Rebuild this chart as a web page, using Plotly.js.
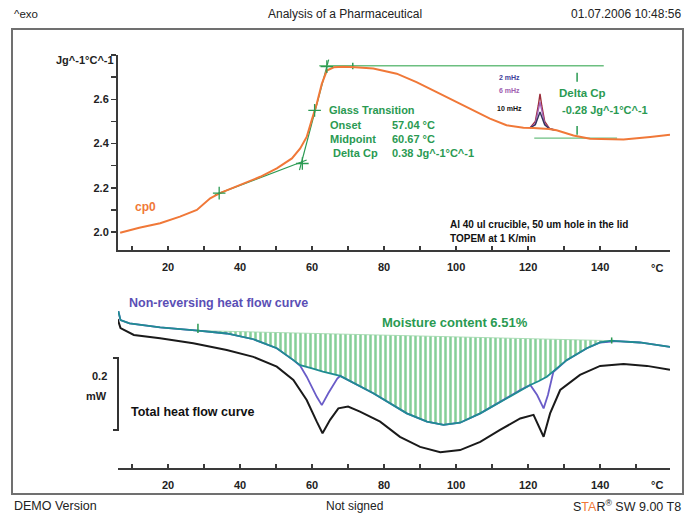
<!DOCTYPE html>
<html>
<head>
<meta charset="utf-8">
<script src="https://cdn.plot.ly/plotly-3.0.1.min.js"></script>
<style>html,body{margin:0;padding:0;background:#fff;}#chart{width:691px;height:516px;}</style>
</head>
<body>
<div id="chart"></div>
<script>
// ---------- Top panel: specific heat cp0 (Jg^-1°C^-1) ----------
const tempCp0 = [6.7, 12, 17.8, 23.3, 28, 31.7, 34.4, 40.9, 45.6, 50.2, 54.4, 56.7, 58.5, 59.9, 61.3, 62.7, 64.1, 66, 68.6, 72, 77, 83.5, 89, 94.6, 100.2, 104.8, 109.4, 114, 118.7, 121.5, 125.8, 127.9, 132.6, 137.2, 142, 146.5, 153.9, 159.4];
const cp0 = [1.997, 2.02, 2.04, 2.07, 2.10, 2.153, 2.176, 2.221, 2.25, 2.288, 2.333, 2.378, 2.43, 2.506, 2.58, 2.67, 2.73, 2.745, 2.747, 2.745, 2.739, 2.716, 2.678, 2.633, 2.588, 2.55, 2.513, 2.483, 2.472, 2.47, 2.466, 2.46, 2.437, 2.422, 2.419, 2.419, 2.43, 2.44];

// Frequency-dependent peaks near 124 °C
const tempPeak = [120.5, 122, 122.8, 123.3, 123.8, 124.6, 126, 127.5];
const cp2mHz  = [2.471, 2.50, 2.57, 2.625, 2.57, 2.50, 2.466, 2.462];
const cp6mHz  = [2.471, 2.49, 2.55, 2.588, 2.55, 2.49, 2.466, 2.462];
const cp10mHz = [2.471, 2.485, 2.52, 2.543, 2.52, 2.485, 2.466, 2.462];

// Glass transition evaluation construction lines
const tgBaseT = [33, 58.5], tgBaseCp = [2.168, 2.326];
const tgSteepT = [56.5, 64.6], tgSteepCp = [2.28, 2.78];
const tgMarkT = [34.2, 57.3, 60.7, 64.1], tgMarkCp = [2.176, 2.31, 2.55, 2.748];
const upperLevelT = [62, 141], upperLevelCp = [2.752, 2.752];
const lowerLevelT = [121.7, 144.7], lowerLevelCp = [2.425, 2.425];
const dcpMarkT = [133.6, 133.6, null, 133.6, 133.6], dcpMarkCp = [2.68, 2.72, null, 2.44, 2.48];
const plateauMarkT = [71.3, 71.3], plateauMarkCp = [2.736, 2.766];

// ---------- Bottom panel: heat flow (mW, relative) ----------
const tempNR = [6.2, 6.8, 9.3, 17.8, 28.3, 36.3, 43.7, 50.2, 54.8, 56.7, 58.5, 61.3, 62.7, 64.5, 67, 67.8, 77, 86.3, 91.9, 96.5, 101.1, 106.7, 112.2, 117.8, 120.6, 122.5, 124.3, 125.5, 127, 130.7, 136.3, 140, 144.6, 151, 159.4];
const nonRev = [-0.031, -0.056, -0.065, -0.076, -0.085, -0.093, -0.109, -0.134, -0.167, -0.183, -0.213, -0.269, -0.292, -0.259, -0.218, -0.211, -0.259, -0.315, -0.338, -0.347, -0.341, -0.315, -0.283, -0.250, -0.236, -0.264, -0.301, -0.264, -0.200, -0.167, -0.134, -0.118, -0.114, -0.118, -0.130];

const tempSm = [6.2, 6.8, 9.3, 17.8, 28.3, 36.3, 43.7, 50.2, 54.8, 56.7, 60, 63, 67.8, 77, 86.3, 91.9, 96.5, 101.1, 106.7, 112.2, 117.8, 120.6, 123, 125.2, 130.7, 136.3, 140, 143.2, 144.6, 151, 159.4];
const nonRevSmooth = [-0.031, -0.056, -0.065, -0.076, -0.085, -0.093, -0.109, -0.134, -0.167, -0.181, -0.190, -0.199, -0.211, -0.259, -0.315, -0.338, -0.347, -0.341, -0.315, -0.283, -0.250, -0.236, -0.225, -0.213, -0.167, -0.134, -0.118, -0.113, -0.114, -0.118, -0.130];

const tempTot = [6.0, 6.8, 10.5, 17.8, 27, 36.3, 43.7, 50.2, 54.8, 58.5, 61.3, 62.9, 65, 67.3, 70, 73.3, 78.9, 84.4, 90, 95.6, 101.1, 106.7, 112.2, 117.8, 121.5, 124.3, 126.1, 128.9, 134.4, 140, 146.5, 153, 159.4];
const totalHF = [-0.053, -0.078, -0.097, -0.106, -0.120, -0.139, -0.158, -0.185, -0.222, -0.278, -0.338, -0.370, -0.333, -0.301, -0.296, -0.310, -0.338, -0.380, -0.408, -0.423, -0.417, -0.394, -0.361, -0.329, -0.319, -0.380, -0.315, -0.250, -0.208, -0.183, -0.178, -0.183, -0.194];

const intLimitsT = [28.3, 143.2], intBaseline = [-0.085, -0.113];
const limMarkT = [28.3, 28.3, null, 143.2, 143.2], limMarkHF = [-0.066, -0.092, null, -0.104, -0.121];

const xTicks = [20, 40, 60, 80, 100, 120, 140];
const yTicks = [2.0, 2.2, 2.4, 2.6];

// ---------- Build ----------
const W = 691, H = 516;
const F = 'Liberation Sans, Arial, sans-serif';
const GREEN = '#2a9a52', ORANGE = '#f07838';
const px = v => v / W, py = v => 1 - v / H;

const traces = [];
function line(x, y, color, width, xa, ya, extra) {
  traces.push(Object.assign({x, y, type: 'scatter', mode: 'lines', line: {color, width},
    xaxis: xa, yaxis: ya, hoverinfo: 'skip', showlegend: false}, extra || {}));
}
// top panel
line(tgBaseT, tgBaseCp, GREEN, 1.2, 'x', 'y');
line(tgSteepT, tgSteepCp, GREEN, 1.2, 'x', 'y');
line(upperLevelT, upperLevelCp, '#6cbf80', 1.3, 'x', 'y');
line(lowerLevelT, lowerLevelCp, '#6cbf80', 1.3, 'x', 'y');
line(dcpMarkT, dcpMarkCp, GREEN, 1.5, 'x', 'y');
line(plateauMarkT, plateauMarkCp, GREEN, 1.5, 'x', 'y');
line(tempPeak, cp2mHz, '#9b2d3a', 1.4, 'x', 'y');
line(tempPeak, cp6mHz, '#a463b8', 1.4, 'x', 'y');
line(tempPeak, cp10mHz, '#33335a', 1.4, 'x', 'y');
line(tempCp0, cp0, ORANGE, 2, 'x', 'y');
traces.push({x: tgMarkT, y: tgMarkCp, type: 'scatter', mode: 'markers', xaxis: 'x', yaxis: 'y',
  marker: {symbol: 'cross-thin-open', size: 9, color: GREEN, line: {color: GREEN, width: 1.3}},
  hoverinfo: 'skip', showlegend: false});

// bottom panel
line(intLimitsT, intBaseline, '#9ad6a8', 0.8, 'x2', 'y2');
const fillT = [], fillV = [];
tempSm.forEach((t, i) => { if (t >= intLimitsT[0] && t <= intLimitsT[1]) { fillT.push(t); fillV.push(nonRevSmooth[i]); } });
line(fillT, fillV, 'rgba(0,0,0,0)', 0, 'x2', 'y2', {fill: 'tonexty', fillcolor: '#ffffff',
  fillpattern: {shape: '|', size: 5, solidity: 0.5, fgcolor: '#86cf98', bgcolor: '#ffffff'}});
line(tempTot, totalHF, '#1a1a1a', 2, 'x2', 'y2');
line(tempNR, nonRev, '#6a5cc8', 1.8, 'x2', 'y2');
line(tempSm, nonRevSmooth, '#1f8c92', 1.8, 'x2', 'y2');
line(limMarkT, limMarkHF, GREEN, 1.5, 'x2', 'y2');

const xDom = [px(118), px(670)];
const xRange = [6.1, 159.4];
const tickFont = {family: F, size: 11, color: '#222', weight: 'bold'};
const xAxisBase = {domain: xDom, range: xRange, showline: true, linecolor: '#3a3a3a', linewidth: 2,
  ticks: 'inside', ticklen: 4, tickwidth: 1.5, tickcolor: '#3a3a3a', tickvals: xTicks,
  minor: {tickmode: 'linear', tick0: 0, dtick: 10, ticks: 'inside', ticklen: 4, tickwidth: 1.5, tickcolor: '#3a3a3a', showgrid: false},
  tickfont: tickFont, showgrid: false, zeroline: false, ticklabelstandoff: 6, fixedrange: true};

function A(text, x, y, size, color, opts) {
  return Object.assign({text, x: px(x), y: py(y), xref: 'paper', yref: 'paper', showarrow: false,
    xanchor: 'left', yanchor: 'middle', font: {family: F, size, color, weight: (opts && opts.w) || 'normal'}},
    opts && opts.a ? opts.a : {});
}
const annotations = [
  A('^exo', 12, 14, 11.5, '#222'),
  A('Analysis of a Pharmaceutical', 345, 14, 12, '#222', {a: {xanchor: 'center'}}),
  A('01.07.2006 10:48:56', 683, 14, 12, '#222', {a: {xanchor: 'right'}}),
  A('DEMO Version', 12, 506, 12.5, '#222'),
  A('Not signed', 354, 506, 12, '#222', {a: {xanchor: 'center'}}),
  A('S<span style="color:#f07838">TA</span>R<sup>®</sup> SW 9.00 T8', 683, 506, 12.5, '#222', {a: {xanchor: 'right'}}),
  A('Jg^-1°C^-1', 116, 60, 11, '#222', {w: 'bold', a: {xanchor: 'right'}}),
  A('°C', 657, 268, 11, '#222', {w: 'bold', a: {xanchor: 'center'}}),
  A('°C', 657, 485, 11, '#222', {w: 'bold', a: {xanchor: 'center'}}),
  A('cp0', 133, 207, 12, ORANGE, {w: 'bold'}),
  A('Glass Transition', 327, 110, 11, GREEN, {w: 'bold'}),
  A('Onset', 328, 125, 11, GREEN, {w: 'bold'}),
  A('Midpoint', 328, 139, 11, GREEN, {w: 'bold'}),
  A('Delta Cp', 331, 153, 11, GREEN, {w: 'bold'}),
  A('57.04 °C', 390, 125, 11, GREEN, {w: 'bold'}),
  A('60.67 °C', 390, 139, 11, GREEN, {w: 'bold'}),
  A('0.38 Jg^-1°C^-1', 390, 153, 11, GREEN, {w: 'bold'}),
  A('2 mHz', 497, 77, 7, '#40409a', {w: 'bold'}),
  A('6 mHz', 497, 91, 7, '#a060b0', {w: 'bold'}),
  A('10 mHz', 495, 108, 7, '#111', {w: 'bold'}),
  A('Delta Cp', 557, 93, 11.5, GREEN, {w: 'bold'}),
  A('-0.28 Jg^-1°C^-1', 560, 110, 11, GREEN, {w: 'bold'}),
  A('Al 40 ul crucible, 50 um hole in the lid', 448, 224, 10, '#111', {w: 'bold'}),
  A('TOPEM at 1 K/min', 448, 239, 10, '#111', {w: 'bold'}),
  A('Non-reversing heat flow curve', 127, 303, 12.5, '#5a4fb5', {w: 'bold'}),
  A('Total heat flow curve', 129, 412, 12.5, '#111', {w: 'bold'}),
  A('Moisture content 6.51%', 380, 322, 13, GREEN, {w: 'bold'}),
  A('0.2', 109, 376, 11, '#222', {w: 'bold', a: {xanchor: 'right'}}),
  A('mW', 109, 396, 11, '#222', {w: 'bold', a: {xanchor: 'right'}})
];

const shapes = [
  {type: 'rect', xref: 'paper', yref: 'paper', x0: px(12), x1: px(683), y0: py(494), y1: py(29),
    line: {color: '#707070', width: 2}},
  {type: 'path', xref: 'paper', yref: 'paper',
    path: `M ${px(113)} ${py(358)} L ${px(118)} ${py(358)} L ${px(118)} ${py(430)} L ${px(113)} ${py(430)}`,
    line: {color: '#333', width: 2}}
];

const layout = {
  width: W, height: H, margin: {l: 0, r: 0, t: 0, b: 0},
  paper_bgcolor: '#fff', plot_bgcolor: 'rgba(0,0,0,0)', showlegend: false,
  xaxis: Object.assign({}, xAxisBase, {anchor: 'y'}),
  yaxis: {domain: [py(250), py(55)], range: [1.919, 2.8005], anchor: 'x', showline: true, linecolor: '#3a3a3a',
    linewidth: 2, ticks: 'outside', ticklen: 5, tickwidth: 1.5, tickcolor: '#3a3a3a', tickvals: yTicks,
    tickformat: '.1f',
    minor: {tickmode: 'linear', tick0: 0, dtick: 0.1, ticks: 'outside', ticklen: 5, tickwidth: 1.5, tickcolor: '#3a3a3a', showgrid: false},
    tickfont: tickFont, showgrid: false, zeroline: false, fixedrange: true},
  xaxis2: Object.assign({}, xAxisBase, {anchor: 'y2'}),
  yaxis2: {domain: [py(468), py(300)], range: [-0.4667, 0], anchor: 'x2', visible: false, fixedrange: true},
  annotations, shapes
};

Plotly.newPlot('chart', traces, layout, {staticPlot: true, displayModeBar: false});
</script>
</body>
</html>
